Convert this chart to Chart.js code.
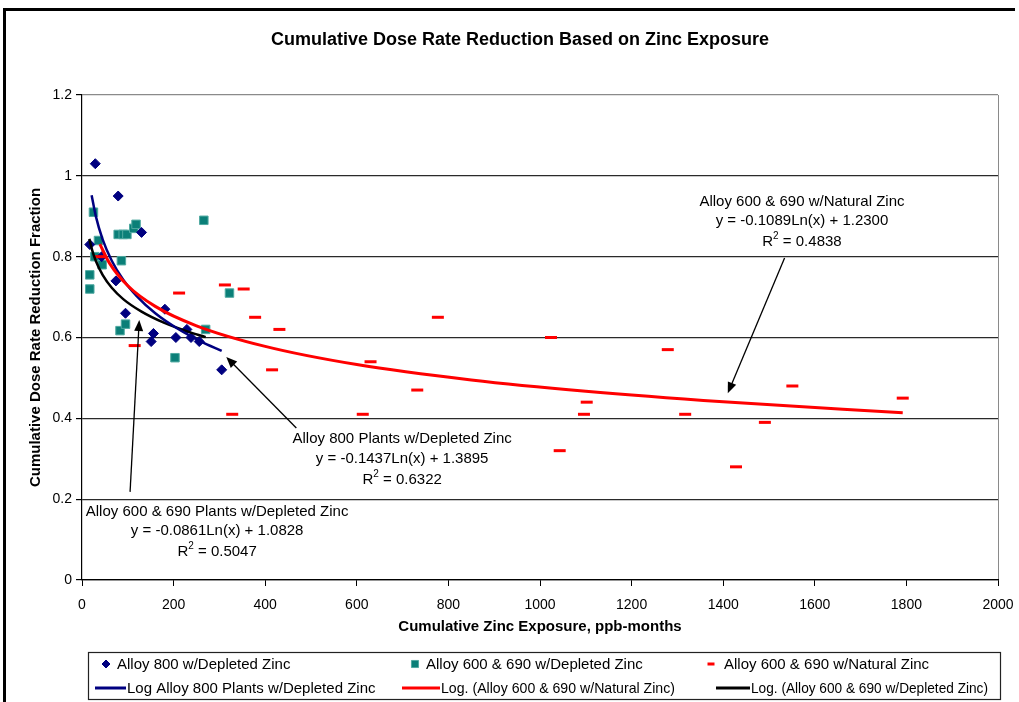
<!DOCTYPE html>
<html>
<head>
<meta charset="utf-8">
<script src="https://cdn.jsdelivr.net/npm/chart.js@4.4.1/dist/chart.umd.min.js"></script>
<style>
  body { margin: 0; background: #fff; }
  #wrapper { width: 1019px; height: 702px; }
</style>
</head>
<body>
<div id="wrapper"><canvas id="canvas" width="1019" height="702"></canvas></div>
<script>
// Datos
var xTickLabels = ['0', '200', '400', '600', '800', '1000', '1200', '1400', '1600', '1800', '2000'];
var yTickLabels = ['0', '0.2', '0.4', '0.6', '0.8', '1', '1.2'];

// Alloy 800 w/Depleted Zinc
var alloy800X = [17, 29, 43, 74, 79, 95, 130, 151, 156, 181, 205, 229, 238, 256, 305];
var alloy800Y = [0.83, 1.03, 0.80, 0.74, 0.95, 0.66, 0.86, 0.59, 0.61, 0.67, 0.60, 0.62, 0.60, 0.59, 0.52];

// Alloy 600 & 690 w/Depleted Zinc
var depletedX = [17, 17, 25, 28, 36, 44, 79, 90, 98, 83, 86, 95, 113, 118, 203, 266, 270, 322];
var depletedY = [0.72, 0.755, 0.91, 0.80, 0.84, 0.78, 0.855, 0.855, 0.855, 0.617, 0.79, 0.633, 0.87, 0.88, 0.55, 0.89, 0.62, 0.71];

// Alloy 600 & 690 w/Natural Zinc
var naturalX = [39, 115, 212, 312, 328, 353, 378, 415, 431, 613, 630, 732, 777, 1024, 1043, 1096, 1102, 1279, 1317, 1428, 1491, 1551, 1792];
var naturalY = [0.80, 0.58, 0.71, 0.73, 0.41, 0.72, 0.65, 0.52, 0.62, 0.41, 0.54, 0.47, 0.65, 0.60, 0.32, 0.41, 0.44, 0.57, 0.41, 0.28, 0.39, 0.48, 0.45];

// Curvas de tendencia (valores leídos sobre cada curva)
var fit800X = [21, 30, 45, 65, 90, 120, 160, 210, 260, 305];
var fit800Y = [0.952, 0.901, 0.843, 0.790, 0.743, 0.702, 0.660, 0.621, 0.590, 0.567];
var fitNaturalX = [39, 60, 100, 160, 250, 400, 600, 850, 1100, 1400, 1792];
var fitNaturalY = [0.831, 0.784, 0.728, 0.677, 0.629, 0.578, 0.533, 0.495, 0.467, 0.441, 0.414];
var fitDepletedX = [16, 22, 30, 45, 65, 90, 130, 180, 230, 270];
var fitDepletedY = [0.844, 0.817, 0.790, 0.755, 0.723, 0.695, 0.664, 0.636, 0.615, 0.601];

function pts(xs, ys) {
  return xs.map(function(x, i) { return { x: x, y: ys[i] }; });
}

var FONT = "'Liberation Sans', Arial, sans-serif";

// Anotaciones: texto en coordenadas de datos, flechas de "from" a "to"
var notes = [
  { lines: ['Alloy 600 & 690 w/Natural Zinc', 'y = -0.1089Ln(x) + 1.2300'], r2: '0.4838',
    at: [1572, 0.936], from: [1534, 0.797], to: [1410, 0.462] },
  { lines: ['Alloy 800 Plants w/Depleted Zinc', 'y = -0.1437Ln(x) + 1.3895'], r2: '0.6322',
    at: [699, 0.348], from: [468, 0.376], to: [315, 0.552] },
  { lines: ['Alloy 600 & 690 Plants w/Depleted Zinc', 'y = -0.0861Ln(x) + 1.0828'], r2: '0.5047',
    at: [295, 0.169], from: [105, 0.218], to: [125, 0.643] }
];

function arrow(c, x1, y1, x2, y2) {
  var ang = Math.atan2(y2 - y1, x2 - x1);
  var len = 11, half = 4.5;
  c.beginPath();
  c.moveTo(x1, y1);
  c.lineTo(x2 - Math.cos(ang) * len * 0.8, y2 - Math.sin(ang) * len * 0.8);
  c.stroke();
  c.beginPath();
  c.moveTo(x2, y2);
  c.lineTo(x2 - Math.cos(ang) * len + Math.sin(ang) * half, y2 - Math.sin(ang) * len - Math.cos(ang) * half);
  c.lineTo(x2 - Math.cos(ang) * len - Math.sin(ang) * half, y2 - Math.sin(ang) * len + Math.cos(ang) * half);
  c.closePath();
  c.fill();
}

var decorPlugin = {
  id: 'decor',
  beforeDraw: function(chart) {
    var c = chart.ctx;
    c.save();
    c.fillStyle = '#fff';
    c.fillRect(0, 0, chart.width, chart.height);
    // marco exterior
    c.fillStyle = '#000';
    c.fillRect(3, 8, 1012, 3);
    c.fillRect(3, 8, 3, 694);
    // título
    c.font = 'bold 18px ' + FONT;
    c.textAlign = 'center';
    c.textBaseline = 'middle';
    c.fillText('Cumulative Dose Rate Reduction Based on Zinc Exposure', 520, 40);
    c.restore();
  },
  afterDraw: function(chart) {
    var c = chart.ctx;
    var sx = chart.scales.x, sy = chart.scales.y;
    c.save();
    c.strokeStyle = '#000';
    c.fillStyle = '#000';
    c.lineWidth = 1.3;
    notes.forEach(function(n) {
      arrow(c, sx.getPixelForValue(n.from[0]), sy.getPixelForValue(n.from[1]),
               sx.getPixelForValue(n.to[0]), sy.getPixelForValue(n.to[1]));
      var cx = sx.getPixelForValue(n.at[0]);
      var cy = sy.getPixelForValue(n.at[1]);
      c.font = '15px ' + FONT;
      c.textAlign = 'center';
      c.textBaseline = 'middle';
      n.lines.forEach(function(t, i) { c.fillText(t, cx, cy + i * 19.5); });
      // R² con superíndice
      var y3 = cy + 40.5;
      var rest = ' = ' + n.r2;
      var wR = c.measureText('R').width, wRest = c.measureText(rest).width;
      c.font = '10px ' + FONT;
      var w2 = c.measureText('2').width;
      var x0 = cx - (wR + w2 + wRest) / 2;
      c.textAlign = 'left';
      c.fillText('2', x0 + wR, y3 - 6);
      c.font = '15px ' + FONT;
      c.fillText('R', x0, y3);
      c.fillText(rest, x0 + wR + w2, y3);
    });

    // leyenda
    var ds = chart.data.datasets;
    c.lineWidth = 1.2;
    c.strokeStyle = '#222';
    c.strokeRect(88.5, 652.5, 912, 47);
    c.font = '15px ' + FONT;
    c.textAlign = 'left';
    c.textBaseline = 'middle';
    var markerCols = [106, 415, 711];
    var markerText = [117, 426, 724];
    for (var i = 0; i < 3; i++) {
      var d = ds[i];
      c.fillStyle = d.backgroundColor;
      c.strokeStyle = d.borderColor;
      c.lineWidth = d.legendBorder;
      Chart.helpers.drawPoint(c, {
        pointStyle: d.pointStyle, radius: d.legendRadius, rotation: 0,
        borderWidth: d.legendBorder
      }, markerCols[i], 664);
      c.fillStyle = '#000';
      c.fillText(d.label, markerText[i], 665);
    }
    var lineCols = [[95, 126], [402, 440], [716, 750]];
    var lineTextWidth = [250, 234, 237];
    for (var j = 0; j < 3; j++) {
      var L = ds[3 + j];
      c.strokeStyle = L.borderColor;
      c.lineWidth = 3;
      c.beginPath();
      c.moveTo(lineCols[j][0], 688);
      c.lineTo(lineCols[j][1], 688);
      c.stroke();
      c.fillStyle = '#000';
      c.fillText(L.label, lineCols[j][1] + 1, 689, lineTextWidth[j]);
    }
    c.restore();
  }
};

var ctx = document.getElementById('canvas');

var chart = new Chart(ctx, {
  type: 'scatter',
  data: {
    datasets: [{
      label: 'Alloy 800 w/Depleted Zinc',
      data: pts(alloy800X, alloy800Y),
      pointStyle: 'rectRot',
      pointRadius: 5,
      backgroundColor: '#000080',
      borderColor: '#000080',
      borderWidth: 1,
      legendRadius: 4,
      legendBorder: 1,
      order: 3
    }, {
      label: 'Alloy 600 & 690 w/Depleted Zinc',
      data: pts(depletedX, depletedY),
      pointStyle: 'rect',
      pointRadius: 6,
      backgroundColor: '#0b7f78',
      borderColor: '#4fa9a0',
      borderWidth: 1,
      legendRadius: 5,
      legendBorder: 1,
      order: 4
    }, {
      label: 'Alloy 600 & 690 w/Natural Zinc',
      data: pts(naturalX, naturalY),
      pointStyle: 'line',
      pointRadius: 6,
      backgroundColor: '#ff0000',
      borderColor: '#ff0000',
      borderWidth: 3,
      legendRadius: 3.5,
      legendBorder: 3,
      order: 2
    }, {
      label: 'Log Alloy 800 Plants w/Depleted Zinc',
      data: pts(fit800X, fit800Y),
      showLine: true,
      pointRadius: 0,
      borderColor: '#000080',
      borderWidth: 2.5,
      cubicInterpolationMode: 'monotone',
      order: 1
    }, {
      label: 'Log. (Alloy 600 & 690 w/Natural Zinc)',
      data: pts(fitNaturalX, fitNaturalY),
      showLine: true,
      pointRadius: 0,
      borderColor: '#ff0000',
      borderWidth: 3,
      cubicInterpolationMode: 'monotone',
      order: 0
    }, {
      label: 'Log. (Alloy 600 & 690 w/Depleted Zinc)',
      data: pts(fitDepletedX, fitDepletedY),
      showLine: true,
      pointRadius: 0,
      borderColor: '#000000',
      borderWidth: 2.5,
      cubicInterpolationMode: 'monotone',
      order: 1
    }]
  },
  options: {
    responsive: false,
    animation: { duration: 0 },
    layout: { padding: { left: 10, top: 95, right: 21, bottom: 66 } },
    plugins: {
      legend: { display: false },
      title: { display: false },
      tooltip: { enabled: false }
    },
    scales: {
      x: {
        type: 'linear',
        min: 0,
        max: 2000,
        afterFit: function(scale) {
          scale.height = 56;
          scale.paddingRight = 0;
          scale.paddingLeft = 0;
        },
        ticks: {
          stepSize: 200,
          padding: 11,
          color: '#000',
          font: { family: FONT, size: 14 },
          callback: function(v, i) { return xTickLabels[i]; }
        },
        grid: {
          color: function(c) { return c.tick && c.tick.value === 2000 ? '#8a8a8a' : 'rgba(0,0,0,0)'; },
          tickColor: '#000',
          tickLength: 6
        },
        border: { color: '#000', width: 1.2 },
        title: {
          display: true,
          text: 'Cumulative Zinc Exposure, ppb-months',
          color: '#000',
          font: { family: FONT, size: 15, weight: 'bold' },
          padding: { top: 0, bottom: 0 }
        }
      },
      y: {
        min: 0,
        max: 1.2,
        afterFit: function(scale) {
          scale.width = 72;
          scale.paddingTop = 0;
          scale.paddingBottom = 0;
        },
        ticks: {
          stepSize: 0.2,
          padding: 4,
          color: '#000',
          font: { family: FONT, size: 14 },
          callback: function(v, i) { return yTickLabels[i]; }
        },
        grid: {
          color: function(c) {
            if (!c.tick) return '#000';
            if (c.index === 6) return '#8a8a8a';
            return '#2a2a2a';
          },
          lineWidth: 1.2,
          tickColor: '#000',
          tickLength: 6
        },
        border: { color: '#000', width: 1.2 },
        title: {
          display: true,
          text: 'Cumulative Dose Rate Reduction Fraction',
          color: '#000',
          font: { family: FONT, size: 15, weight: 'bold' },
          padding: { top: 17, bottom: 0 }
        }
      }
    }
  },
  plugins: [decorPlugin]
});
</script>
</body>
</html>
